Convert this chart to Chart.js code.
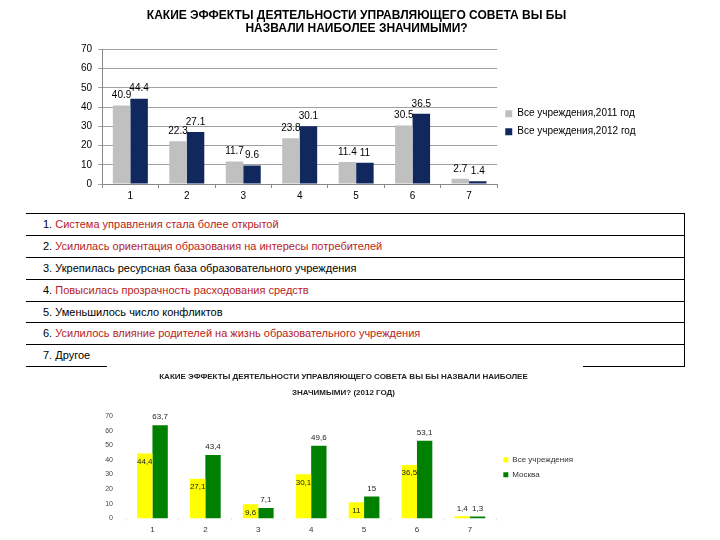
<!DOCTYPE html>
<html lang="ru">
<head>
<meta charset="utf-8">
<script src="https://cdn.jsdelivr.net/npm/chart.js@4.4.1/dist/chart.umd.min.js"></script>
<style>
  body { margin: 0; background: #fff; width: 720px; height: 540px; overflow: hidden; position: relative; font-family: "Liberation Sans", Arial, sans-serif; }
  #top { position: absolute; left: 0; top: 0; }
  #bottom { position: absolute; left: 100px; top: 365px; }
  #list { position: absolute; left: 26px; top: 213px; width: 658px; border-top: 1px solid #000; border-right: 1px solid #000; }
  #list div { height: 20.9px; line-height: 21px; border-bottom: 1px solid #000; padding-left: 17px; font-size: 11px; color: #000; white-space: nowrap; }
  #list span.red { color: #b81c22; }
</style>
</head>
<body>
<canvas id="top" width="720" height="205"></canvas>
<div id="list"></div>
<canvas id="bottom" width="483" height="175"></canvas>
<script>
// данные
const categories = ['1', '2', '3', '4', '5', '6', '7'];
const all2011 = [40.9, 22.3, 11.7, 23.8, 11.4, 30.5, 2.7];
const all2012 = [44.4, 27.1, 9.6, 30.1, 11, 36.5, 1.4];
const moscow2012 = [63.7, 43.4, 7.1, 49.6, 15, 53.1, 1.3];

const effects = [
    'Система управления стала более открытой',
    'Усилилась ориентация образования на интересы потребителей',
    'Укрепилась ресурсная база образовательного учреждения',
    'Повысилась прозрачность расходования средств',
    'Уменьшилось число конфликтов',
    'Усилилось влияние родителей на жизнь  образовательного учреждения',
    'Другое'
];
const effectRed = [true, true, false, true, false, true, false];

const font = 'Liberation Sans, Arial, sans-serif';

// подписи значений над столбцами
function valueLabels(cfg) {
    return {
        id: 'valueLabels',
        afterDatasetsDraw(chart) {
            const ctx = chart.ctx;
            ctx.save();
            ctx.font = cfg.size + 'px ' + font;
            ctx.fillStyle = cfg.color;
            ctx.textAlign = 'center';
            chart.data.datasets.forEach(function (ds, i) {
                const meta = chart.getDatasetMeta(i);
                meta.data.forEach(function (bar, j) {
                    let text = String(ds.data[j]);
                    if (cfg.comma) text = text.replace('.', ',');
                    const inside = cfg.inside && cfg.inside[i] && (bar.base - bar.y) > 10;
                    if (inside) {
                        ctx.textBaseline = 'middle';
                        ctx.fillText(text, bar.x, bar.y + 8);
                    } else {
                        ctx.textBaseline = 'bottom';
                        ctx.fillText(text, bar.x, bar.y - cfg.offset);
                    }
                });
            });
            ctx.restore();
        }
    };
}

// белая подложка нижнего рисунка (левый край таблицы остаётся видимым)
const whiteBack = {
    id: 'whiteBack',
    beforeDraw(chart) {
        const ctx = chart.ctx;
        ctx.save();
        ctx.fillStyle = '#fff';
        ctx.fillRect(7, 0, chart.width - 7, chart.height);
        ctx.restore();
    }
};

// список эффектов
const list = document.getElementById('list');
effects.forEach(function (txt, i) {
    const row = document.createElement('div');
    row.innerHTML = (i + 1) + '. <span class="' + (effectRed[i] ? 'red' : '') + '">' + txt + '</span>';
    list.appendChild(row);
});

// верхний график
new Chart(document.getElementById('top'), {
    type: 'bar',
    data: {
        labels: categories,
        datasets: [
            { label: 'Все учреждения,2011 год', data: all2011, backgroundColor: '#c0c0c0' },
            { label: 'Все учреждения,2012 год', data: all2012, backgroundColor: '#10285e' }
        ]
    },
    options: {
        responsive: false,
        animation: false,
        layout: { padding: { left: 75, right: 82, top: 0, bottom: 1 } },
        datasets: { bar: { categoryPercentage: 0.62, barPercentage: 1 } },
        plugins: {
            title: {
                display: true,
                text: ['КАКИЕ ЭФФЕКТЫ ДЕЯТЕЛЬНОСТИ УПРАВЛЯЮЩЕГО СОВЕТА ВЫ БЫ', 'НАЗВАЛИ НАИБОЛЕЕ ЗНАЧИМЫМИ?'],
                color: '#000',
                font: { family: font, size: 12, weight: 'bold', lineHeight: 1.083 },
                padding: { top: 9.5, bottom: 14 }
            },
            legend: {
                position: 'right',
                fullSize: false,
                title: { display: true, text: ' ', padding: 0, font: { family: font, size: 10 } },
                labels: { boxWidth: 7, boxHeight: 7, padding: 8, color: '#000', font: { family: font, size: 10 } }
            },
            tooltip: { enabled: false }
        },
        scales: {
            x: {
                grid: { drawOnChartArea: false, tickLength: 4, color: '#888', offset: true },
                border: { color: '#888' },
                ticks: { color: '#000', padding: 2, font: { family: font, size: 10 } }
            },
            y: {
                min: 0,
                max: 70,
                ticks: { stepSize: 10, color: '#000', padding: 6, font: { family: font, size: 10 } },
                grid: { color: '#a0a0a0', tickLength: 4 },
                border: { color: '#888' }
            }
        }
    },
    plugins: [valueLabels({ size: 10, color: '#000', offset: 5, comma: false })]
});

// нижний график
new Chart(document.getElementById('bottom'), {
    type: 'bar',
    data: {
        labels: categories,
        datasets: [
            { label: 'Все учреждения', data: all2012, backgroundColor: '#ffff00' },
            { label: 'Москва', data: moscow2012, backgroundColor: '#008000' }
        ]
    },
    options: {
        responsive: false,
        animation: false,
        layout: { padding: { left: 4, right: 0, top: 0, bottom: 0 } },
        datasets: { bar: { categoryPercentage: 0.58, barPercentage: 1 } },
        plugins: {
            title: {
                display: true,
                text: ['КАКИЕ ЭФФЕКТЫ ДЕЯТЕЛЬНОСТИ УПРАВЛЯЮЩЕГО СОВЕТА ВЫ БЫ НАЗВАЛИ НАИБОЛЕЕ', 'ЗНАЧИМЫМИ? (2012 ГОД)'],
                color: '#222',
                font: { family: font, size: 8, weight: 'bold', lineHeight: 2 },
                padding: { top: 4, bottom: 15 }
            },
            legend: {
                position: 'right',
                fullSize: false,
                labels: { boxWidth: 5, boxHeight: 5, padding: 7, color: '#333', font: { family: font, size: 8 } }
            },
            tooltip: { enabled: false }
        },
        scales: {
            x: {
                grid: { drawOnChartArea: false, tickLength: 2, color: '#e6e6e6', offset: true },
                border: { display: false },
                ticks: { color: '#333', padding: 5, font: { family: font, size: 8 } }
            },
            y: {
                min: 0,
                max: 70,
                afterFit: function (scale) { scale.width = 22; },
                ticks: { stepSize: 10, color: '#444', padding: 13, font: { family: font, size: 7 } },
                grid: { display: false, drawTicks: false },
                border: { display: false }
            }
        }
    },
    plugins: [whiteBack, valueLabels({ size: 8, color: '#222', offset: 4, comma: true, inside: [true, false] })]
});
</script>
</body>
</html>
